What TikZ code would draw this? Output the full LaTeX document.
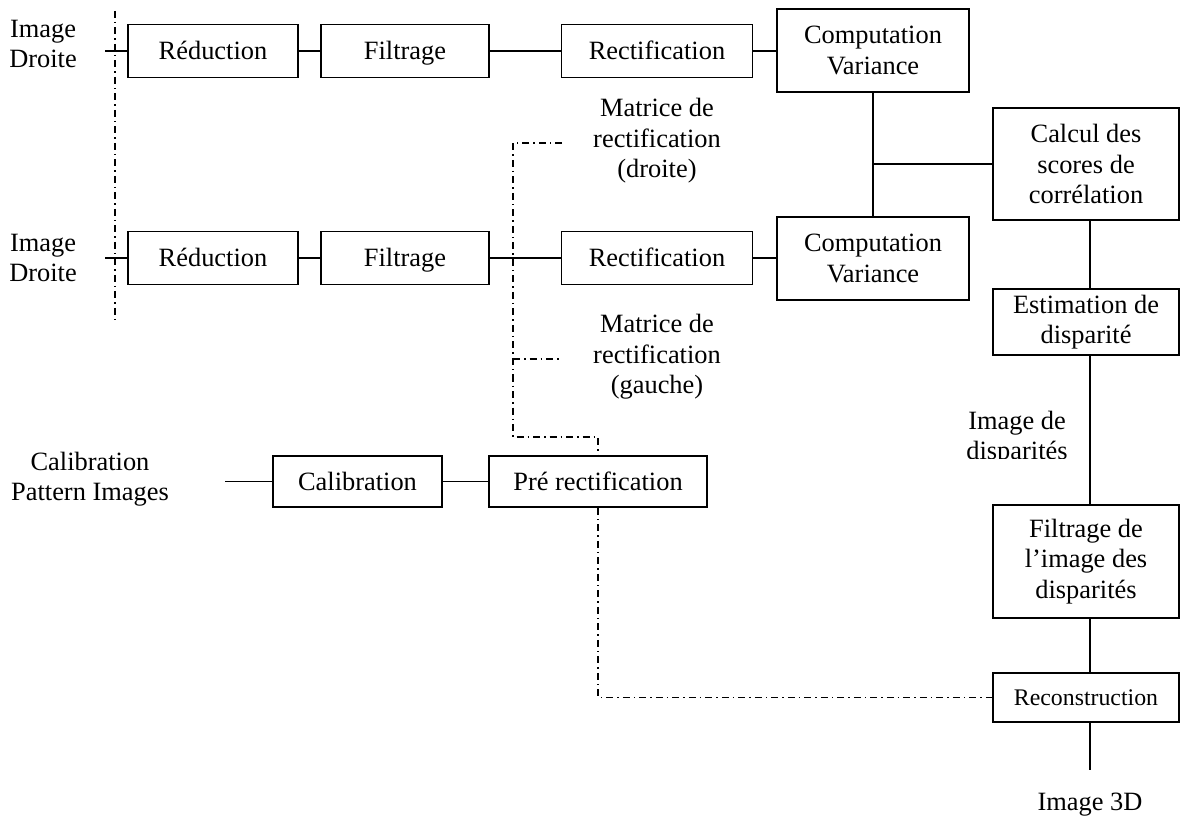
\documentclass[tikz,border=0pt]{standalone}
\usepackage{fontspec}
\setmainfont{Liberation Serif}
\newcommand\mainfs{\fontsize{26.4}{30.5}\selectfont}
\newcommand\smallfs{\fontsize{23.8}{28}\selectfont}
\begin{document}
\begin{tikzpicture}[x=1pt,y=-1pt,
  blk/.style={draw, line width=1.9pt, inner sep=0pt, align=center, font=\mainfs},
  one/.style={text height=22pt, text depth=5pt},
  lbl/.style={align=center, font=\mainfs, inner sep=0pt},
  ln/.style={line width=1.9pt},
  dd/.style={line width=1.5pt, dash pattern=on 7pt off 4pt on 1.5pt off 4pt}]
\useasboundingbox (0,0) rectangle (1181,818);

% upper image chain
\node[blk, one, minimum width=170pt, minimum height=53pt] (red1) at (213,51) {Réduction};
\node[blk, one, minimum width=168pt, minimum height=53pt] (fil1) at (405,51) {Filtrage};
\node[blk, one, minimum width=191pt, minimum height=53pt] (rec1) at (657,51) {Rectification};
\node[blk, minimum width=192pt, minimum height=83pt] (cv1) at (873,50.5) {Computation\\Variance};

% lower image chain
\node[blk, one, minimum width=170pt, minimum height=53pt] (red2) at (213,258) {Réduction};
\node[blk, one, minimum width=168pt, minimum height=53pt] (fil2) at (405,258) {Filtrage};
\node[blk, one, minimum width=191pt, minimum height=53pt] (rec2) at (657,258) {Rectification};
\node[blk, minimum width=192pt, minimum height=83pt] (cv2) at (873,258.5) {Computation\\Variance};

% right column
\node[blk, minimum width=186pt, minimum height=112pt] (calc) at (1086,164) {Calcul des\\scores de\\corrélation};
\node[blk, minimum width=186pt, minimum height=66pt] (est) at (1086,322) {Estimation de\\disparité};
\node[blk, minimum width=186pt, minimum height=113pt] (fdisp) at (1086,561.5) {Filtrage de\\l’image des\\disparités};
\node[blk, minimum width=186pt, minimum height=49pt, font=\smallfs, text height=20pt, text depth=4.5pt] (recon) at (1086,697.5) {Reconstruction};

% calibration chain
\node[blk, one, minimum width=169pt, minimum height=51pt] (calib) at (357.5,481.5) {Calibration};
\node[blk, one, minimum width=218pt, minimum height=51pt] (prer) at (598,481.5) {Pré rectification};

% free labels
\node[lbl] (img1) at (43,44) {Image\\Droite};
\node[lbl] (img2) at (43,258) {Image\\Droite};
\node[lbl] (cpi) at (90,479) {Calibration\\Pattern Images};
\node[lbl] (mdr) at (657,141) {Matrice de\\rectification\\(droite)};
\node[lbl] (mga) at (657,357) {Matrice de\\rectification\\(gauche)};
\node[lbl] (i3d) at (1090,805) {Image 3D};
\begin{scope}
  \clip (930,380) rectangle (1080,458);
  \node[lbl] (idisp) at (1017,438) {Image de\\disparités};
\end{scope}

% connector ends
\coordinate (s1) at (105,51);
\coordinate (s2) at (105,258);
\coordinate (sc) at (225,481.5);
\coordinate (j) at (873,164);
\coordinate (e3d) at (1090,770);
\coordinate (v1) at (115,11);
\coordinate (v2) at (115,324);
\coordinate (a1) at (562,143);
\coordinate (a2) at (513,143);
\coordinate (a3) at (513,437);
\coordinate (a4) at (598,437);
\coordinate (b1) at (513,359);
\coordinate (b2) at (562,359);
\coordinate (p1) at (598,697.5);

% solid connectors
\draw[ln] (s1) -- (red1.west);
\draw[ln] (red1) -- (fil1);
\draw[ln] (fil1) -- (rec1);
\draw[ln] (rec1.east) -- (cv1.west |- rec1.east);
\draw[ln] (s2) -- (red2.west);
\draw[ln] (red2) -- (fil2);
\draw[ln] (fil2) -- (rec2);
\draw[ln] (rec2.east) -- (cv2.west |- rec2.east);
\draw[ln] (cv1) -- (cv2);
\draw[ln] (j) -- (calc.west |- j);
\draw[ln] ([xshift=4pt]calc.south) -- ([xshift=4pt]est.north);
\draw[ln] ([xshift=4pt]est.south) -- ([xshift=4pt]fdisp.north);
\draw[ln] ([xshift=4pt]fdisp.south) -- ([xshift=4pt]recon.north);
\draw[ln] ([xshift=4pt]recon.south) -- (e3d);
\draw[ln] (sc) -- (calib.west);
\draw[ln] (calib) -- (prer);

% dash-dot connectors
\draw[dd] (v1) -- (v2);
\draw[dd] (a1) -- (a2) -- (a3) -- (a4) -- (prer.north);
\draw[dd] (b1) -- (b2);
\draw[dd] (prer.south) -- (p1) -- (recon.west);
\end{tikzpicture}
\end{document}
